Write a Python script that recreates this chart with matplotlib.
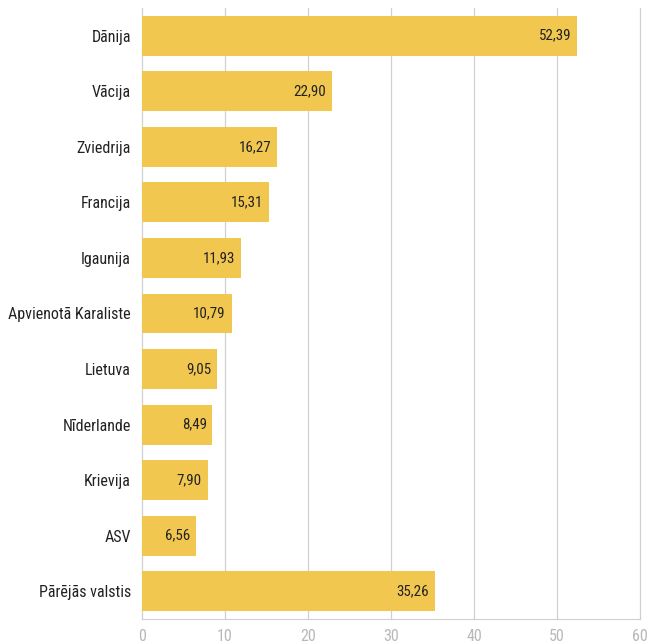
import matplotlib.pyplot as plt
from matplotlib import font_manager

countries = ["Dānija", "Vācija", "Zviedrija", "Francija", "Igaunija",
             "Apvienotā Karaliste", "Lietuva", "Nīderlande", "Krievija",
             "ASV", "Pārējās valstis"]
values = [52.39, 22.90, 16.27, 15.31, 11.93, 10.79, 9.05, 8.49, 7.90, 6.56, 35.26]
xticks = [0, 10, 20, 30, 40, 50, 60]

names = {f.name for f in font_manager.fontManager.ttflist}
family = "Roboto Condensed" if "Roboto Condensed" in names else "Roboto"
plt.rcParams['font.family'] = [family, 'DejaVu Sans']

fig = plt.figure(figsize=(6.51, 6.44), dpi=100)
ax = fig.add_axes([142 / 651, 25 / 644, 498 / 651, 611 / 644])

pos = list(range(len(countries)))
ax.barh(pos, values, height=0.72, color="#F2C750", zorder=2)

for p, v in zip(pos, values):
   ax.text(v - 0.7, p, f"{v:.2f}".replace(".", ","), ha="right", va="center",
           fontsize=10.8, color="#222222", zorder=3)

ax.set_xlim(0, 60)
ax.set_ylim(len(countries) - 0.5, -0.5)
ax.set_xticks(xticks)
ax.set_xticklabels([str(t) for t in xticks], color="#b8b8b8", fontsize=11.5)
ax.set_yticks(pos)
ax.set_yticklabels(countries, fontsize=11.5, color="#222222")
ax.tick_params(axis="both", length=0)
ax.tick_params(axis="x", pad=7)
ax.tick_params(axis="y", pad=8)

# vertical grid, drawn unclipped so the line at 60 shows fully
for t in xticks:
   ax.axvline(t, color="#d0d0d0", linewidth=0.9, zorder=1, clip_on=False)
for s in ["top", "right", "left"]:
   ax.spines[s].set_visible(False)
ax.spines["bottom"].set_color("#d0d0d0")

fig.savefig("out.png", dpi=100)
